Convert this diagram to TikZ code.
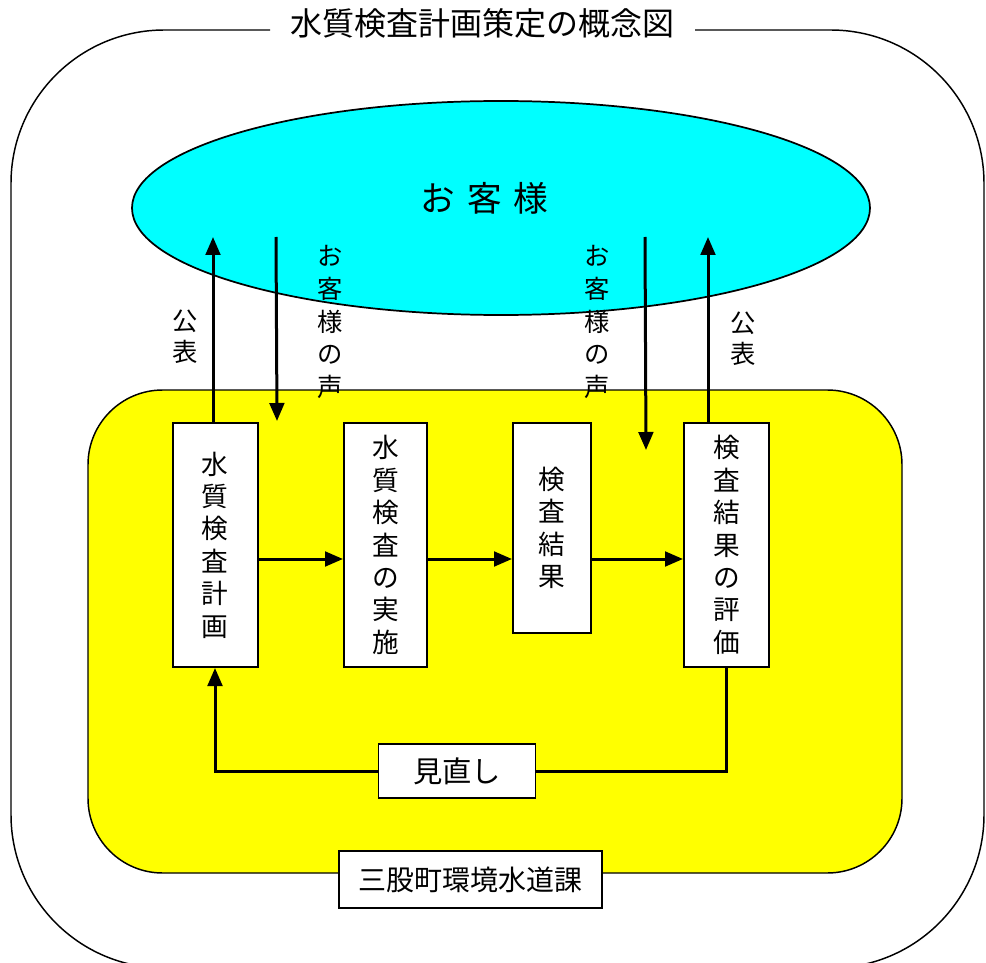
\documentclass[tikz,border=0pt]{standalone}
\usepackage{fontspec}
\newfontfamily\jp{Noto Sans CJK JP}
\usetikzlibrary{arrows.meta,shapes.geometric}
\definecolor{aquafill}{RGB}{0,255,255}
\definecolor{yelfill}{RGB}{255,255,0}
\begin{document}
\begin{tikzpicture}[x=0.75pt,y=-0.75pt,
  every node/.style={font=\jp},
  stepbox/.style={draw, line width=1.5pt, fill=white, inner sep=0pt, align=center,
    font=\jp\fontsize{20}{24.3}\selectfont},
  vlabel/.style={inner sep=0pt, align=center, font=\jp\fontsize{19}{24.5}\selectfont},
  arr/.style={line width=2.25pt, -{Triangle[length=13.5pt,width=11pt]}},
  lnk/.style={line width=2.25pt}]
\useasboundingbox (0,0) rectangle (986,963);
% outer frame
\draw[line width=1.1pt, rounded corners=115pt] (695,30) -- (984,30) -- (984,968) -- (11,968) -- (11,30) -- (270,30);
\node[font=\jp\fontsize{24}{24}\selectfont, inner sep=0pt] (title) at (482,23) {水質検査計画策定の概念図};
% customers
\node[ellipse, draw, line width=1.3pt, fill=aquafill, minimum width=553.5pt, minimum height=160.5pt, inner sep=0pt] (custell) at (501,208) {};
\node[font=\jp\fontsize{26}{26}\selectfont, inner sep=0pt] (cust) at (484.5,198) {お\hspace{9pt}客\hspace{9pt}様};
% organisation
\node[draw, line width=1.1pt, fill=yelfill, rounded corners=56pt, minimum width=610.5pt, minimum height=362.25pt, inner sep=0pt] (org) at (495,631.5) {};
\node[draw, line width=1.3pt, fill=white, minimum width=197.25pt, minimum height=42.75pt, inner sep=0pt, font=\jp\fontsize{21}{21}\selectfont] (orgname) at (470.5,879.5) {三股町環境水道課};
% steps
\node[stepbox, minimum width=63.75pt, minimum height=183pt] (box1) at (215,545) {水\\質\\検\\査\\計\\画};
\node[stepbox, minimum width=62.25pt, minimum height=183pt] (box2) at (385.5,545) {水\\質\\検\\査\\の\\実\\施};
\node[stepbox, minimum width=58.5pt, minimum height=157.5pt] (box3) at (552,528) {検\\査\\結\\果};
\node[stepbox, minimum width=63.75pt, minimum height=183pt] (box4) at (726.5,545) {検\\査\\結\\果\\の\\評\\価};
\node[draw, line width=1.3pt, fill=white, minimum width=117.75pt, minimum height=40.5pt, inner sep=0pt, font=\jp\fontsize{22}{22}\selectfont] (review) at (457,771) {見直し};
% labels
\node[vlabel, font=\jp\fontsize{19}{23.25}\selectfont] (pub1) at (185,337) {公\\表};
\node[vlabel] (voice1) at (330,322) {お\\客\\様\\の\\声};
\node[vlabel] (voice2) at (597,322) {お\\客\\様\\の\\声};
\node[vlabel, font=\jp\fontsize{19}{23.25}\selectfont] (pub2) at (743,339) {公\\表};
% vertical arrows
\coordinate (a1) at (213,237);
\coordinate (a2) at (708,237);
\coordinate (v1s) at (276,237);
\coordinate (v1e) at (277,421);
\coordinate (v2s) at (645,237);
\coordinate (v2e) at (646,450);
\draw[arr] (box1.north -| a1) -- (a1);
\draw[arr] (box4.north -| a2) -- (a2);
\draw[arr] (v1s) -- (v1e);
\draw[arr] (v2s) -- (v2e);
% horizontal arrows
\coordinate (hy) at (0,559);
\draw[arr] (box1.east |- hy) -- (box2.west |- hy);
\draw[arr] (box2.east |- hy) -- (box3.west |- hy);
\draw[arr] (box3.east |- hy) -- (box4.west |- hy);
% review loop
\draw[lnk] (box4.south) -- (box4.south |- review.east) -- (review.east);
\draw[arr] (review.west) -- (review.west -| box1.south) -- (box1.south);
\end{tikzpicture}
\end{document}
